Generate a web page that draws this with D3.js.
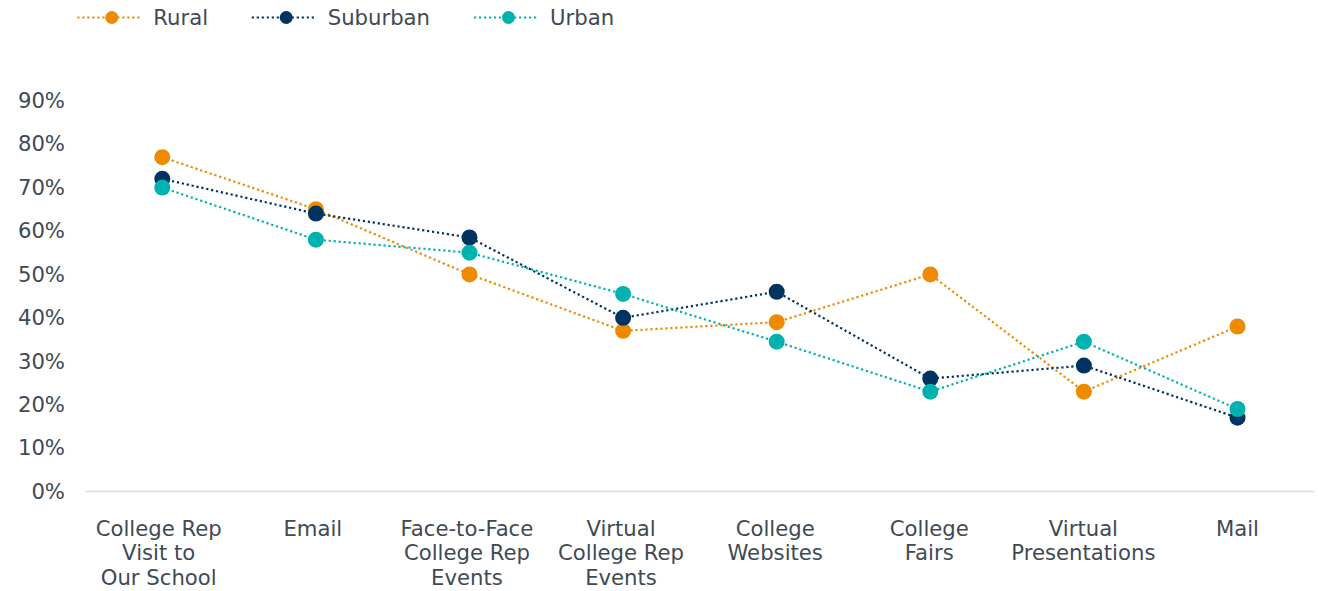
<!DOCTYPE html>
<html>
<head>
<meta charset="utf-8">
<script src="https://cdn.jsdelivr.net/npm/d3@7"></script>
<style>
  html, body { margin: 0; padding: 0; background: #ffffff; }
  svg { display: block; font-family: "DejaVu Sans", Verdana, sans-serif; }
</style>
</head>
<body>
<svg id="chart" width="1318" height="591"></svg>
<script>
// Share of counselors rating each outreach channel, by school locale
const categories = [
  ["College Rep", "Visit to", "Our School"],
  ["Email"],
  ["Face-to-Face", "College Rep", "Events"],
  ["Virtual", "College Rep", "Events"],
  ["College", "Websites"],
  ["College", "Fairs"],
  ["Virtual", "Presentations"],
  ["Mail"]
];
const rural    = [77, 65, 50, 37, 39, 50, 23, 38];
const suburban = [72, 64, 58.5, 40, 46, 26, 29, 17];
const urban    = [70, 58, 55, 45.5, 34.5, 23, 34.5, 19];
const yTicks   = [0, 10, 20, 30, 40, 50, 60, 70, 80, 90];

const seriesNames  = ["Rural", "Suburban", "Urban"];
const seriesColors = ["#EE8A00", "#00335F", "#00B2AF"];
const seriesValues = [rural, suburban, urban];

const textColor = "#404A55";
const fontSize = 21.2;

const svg = d3.select("#chart");
const keys = categories.map(c => c.join(" "));

// Scales
const x = d3.scaleBand().domain(keys).range([85.5, 1314.3]);
const xLabel = d3.scalePoint().domain(keys).range([158.7, 1237.5]);
const y = d3.scaleLinear().domain([0, 90]).range([491.5, 100.7]);
const cx = k => x(k) + x.bandwidth() / 2;

// Baseline
svg.append("line")
  .attr("x1", x.range()[0]).attr("x2", x.range()[1])
  .attr("y1", y(0)).attr("y2", y(0))
  .attr("stroke", "#D9DDE2").attr("stroke-width", 1.5);

// Y axis labels
const yAxis = d3.axisLeft(y).tickValues(yTicks).tickFormat(d => d + "%").tickSize(0).tickPadding(0);
const yg = svg.append("g").attr("transform", "translate(65,0)").call(yAxis);
yg.select(".domain").remove();
yg.selectAll("text")
  .attr("fill", textColor)
  .style("font-size", fontSize + "px")
  .style("font-family", '"DejaVu Sans", Verdana, sans-serif');

// X axis labels (multi-line)
const xg = svg.append("g");
categories.forEach((lines, i) => {
  const t = xg.append("text")
    .attr("x", xLabel(keys[i]))
    .attr("y", 535.7)
    .attr("text-anchor", "middle")
    .attr("fill", textColor)
    .style("font-size", fontSize + "px");
  lines.forEach((ln, j) => {
    t.append("tspan")
      .attr("x", xLabel(keys[i]))
      .attr("dy", j === 0 ? 0 : 24.7)
      .text(ln);
  });
});

// Series: dotted line plus round markers
const line = d3.line().x((d, i) => cx(keys[i])).y(d => y(d));
seriesValues.forEach((vals, s) => {
  const g = svg.append("g");
  g.append("path")
    .datum(vals)
    .attr("d", line)
    .attr("fill", "none")
    .attr("stroke", seriesColors[s])
    .attr("stroke-width", 2.2)
    .attr("stroke-dasharray", "2.2 2.8");
  g.selectAll("circle")
    .data(vals)
    .join("circle")
    .attr("cx", (d, i) => cx(keys[i]))
    .attr("cy", d => y(d))
    .attr("r", 8)
    .attr("fill", seriesColors[s]);
});

// Legend
const legendX = [77.3, 251.7, 474];
const legend = svg.append("g");
seriesNames.forEach((name, s) => {
  const g = legend.append("g").attr("transform", `translate(${legendX[s]},17.5)`);
  g.append("line")
    .attr("x1", 0).attr("x2", 63.5)
    .attr("stroke", seriesColors[s])
    .attr("stroke-width", 2.2)
    .attr("stroke-dasharray", "2.2 2.8");
  g.append("circle").attr("cx", 34.5).attr("r", 6.5).attr("fill", seriesColors[s]);
  g.append("text")
    .attr("x", 76)
    .attr("dy", "0.36em")
    .attr("fill", textColor)
    .style("font-size", fontSize + "px")
    .text(name);
});
</script>
</body>
</html>
